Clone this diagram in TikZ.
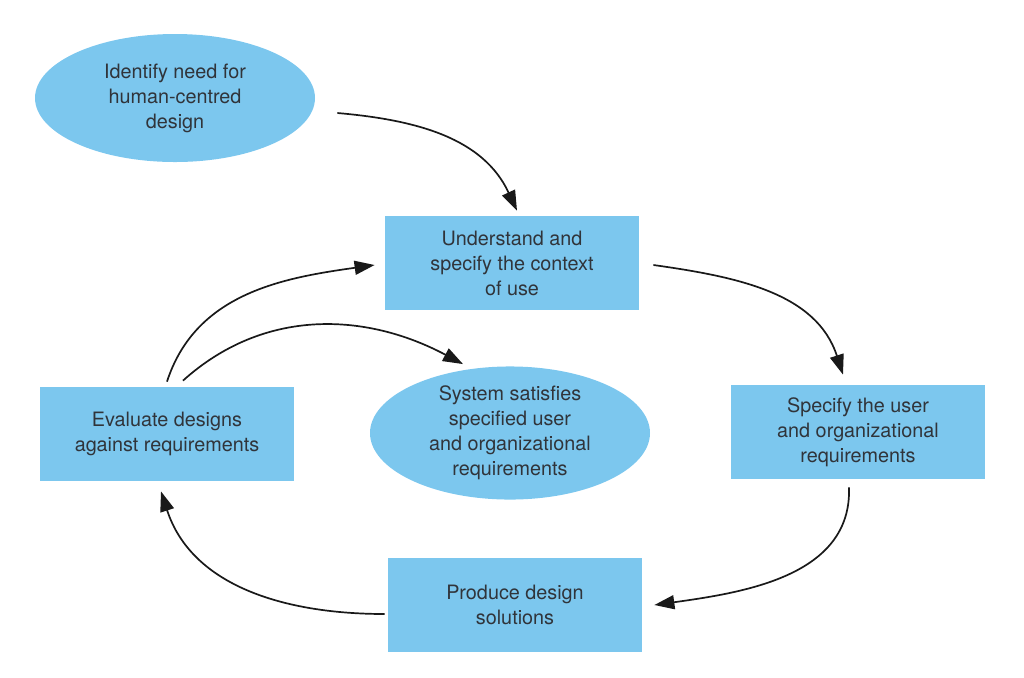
\documentclass[tikz,border=0pt]{standalone}
\usepackage{fontspec}
\setmainfont{TeX Gyre Heros}
\usetikzlibrary{shapes,arrows.meta}

\definecolor{hcdblue}{RGB}{124,199,238}
\definecolor{hcdtext}{RGB}{48,52,58}

\tikzset{
  stage/.style={rectangle, fill=hcdblue, minimum width=127pt, minimum height=47pt,
    inner sep=0pt, align=center, text=hcdtext, font=\fontsize{9.9}{12.5}\selectfont},
  goal/.style={ellipse, fill=hcdblue, minimum width=140pt, minimum height=64pt, inner sep=0pt,
    align=center, text=hcdtext, font=\fontsize{9.9}{12.5}\selectfont},
  flow/.style={-{Triangle[length=10pt,width=7pt]}, line width=0.85pt, black!90},
}

\begin{document}
\begin{tikzpicture}[x=0.5pt,y=-0.5pt]
  \useasboundingbox (0,0) rectangle (1024,677);

	  \node[goal] (need) at (175,98) {Identify need for\\human-centred\\design};
	  \node[stage] (context) at (512,263) {Understand and\\specify the context\\of use};
	  \node[stage] (reqs) at (858,432) {Specify the user\\and organizational\\requirements};
	  \node[stage] (produce) at (515,605) {Produce design\\solutions};
	  \node[stage] (evaluate) at (167,434) {Evaluate designs\\against requirements};
	  \node[goal] (system) at (510,433) {System satisfies\\specified user\\and organizational\\requirements};

	  % the cycle
	  \draw[flow] ([xshift=11pt,yshift=-7.5pt]need.east) to[out=-5,in=115] ([xshift=2.5pt,yshift=2.5pt]context.north);
	  \draw[flow] ([xshift=7pt,yshift=-1pt]context.east) to[out=-8,in=108] ([xshift=-7.5pt,yshift=5pt]reqs.north);
	  \draw[flow] ([xshift=-4.5pt,yshift=-4pt]reqs.south) to[out=-88,in=8] ([xshift=6pt]produce.east);
	  \draw[flow] ([xshift=-1.5pt,yshift=-4.5pt]produce.west) to[out=180,in=-72] ([xshift=-3pt,yshift=-5pt]evaluate.south);
	  \draw[flow] ([yshift=2.5pt]evaluate.north) to[out=72,in=188] ([xshift=-5pt,yshift=-1pt]context.west);
	  \draw[flow] ([xshift=8pt,yshift=3pt]evaluate.north) to[out=42,in=152] ([xshift=-23.5pt,yshift=1pt]system.north);

\end{tikzpicture}
\end{document}
